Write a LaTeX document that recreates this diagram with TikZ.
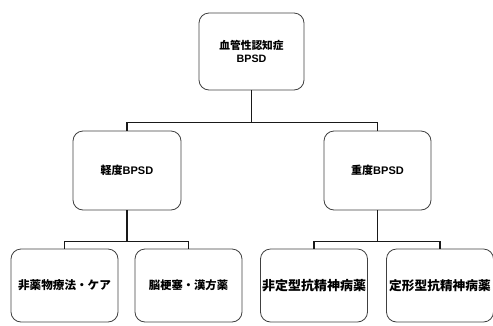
\documentclass[tikz,border=0pt]{standalone}
\usepackage{fontspec}
\setmainfont{Liberation Sans}
\newfontfamily\cjk{Noto Sans CJK JP}
\newcommand{\fs}[1]{\fontsize{#1}{#1}\selectfont}
\tikzset{
  box/.style={draw=black!75, line width=0.8pt, rounded corners=10pt, align=center,
    font=\cjk\bfseries\fontsize{10.7}{13}\selectfont, inner sep=0pt},
  conn/.style={draw=black!90, line width=1.4pt},
}
\begin{document}
\begin{tikzpicture}[x=1pt,y=-1pt]
\useasboundingbox (0,0) rectangle (493,325);
\node[box, minimum width=105pt, minimum height=77pt] (top) at (251.5,51.5) {血管性認知症\\{\bfseries\rmfamily BPSD}};
\node[box, minimum width=108pt, minimum height=79pt] (m1) at (127,170.5) {\raisebox{-2pt}{\fs{11}軽度{\rmfamily\bfseries BPSD}}};
\node[box, minimum width=107pt, minimum height=79pt] (m2) at (377.5,170.5) {\raisebox{-2pt}{\fs{11}重度{\rmfamily\bfseries BPSD}}};
\node[box, minimum width=107pt, minimum height=73pt] (b1) at (64.5,285.5) {\raisebox{-3pt}{\fs{11.6}非薬物療法・ケア}};
\node[box, minimum width=107pt, minimum height=73pt] (b2) at (188.5,285.5) {\raisebox{-3pt}{\fs{11.3}脳梗塞・漢方薬}};
\node[box, minimum width=107pt, minimum height=73pt] (b3) at (314,285.5) {\raisebox{-3pt}{\fs{13}非定型抗精神病薬}};
\node[box, minimum width=107pt, minimum height=73pt] (b4) at (440,285.5) {\raisebox{-3pt}{\fs{12.7}定形型抗精神病薬}};
\draw[conn] (top.south) -- ++(0,32) -| (m1.north);
\draw[conn] (top.south) -- ++(0,32) -| (m2.north);
\draw[conn] (m1.south) -- ++(0,31) -| (b1.north);
\draw[conn] (m1.south) -- ++(0,31) -| (b2.north);
\draw[conn] (m2.south) -- ++(0,31) -| (b3.north);
\draw[conn] (m2.south) -- ++(0,31) -| (b4.north);
\end{tikzpicture}
\end{document}
